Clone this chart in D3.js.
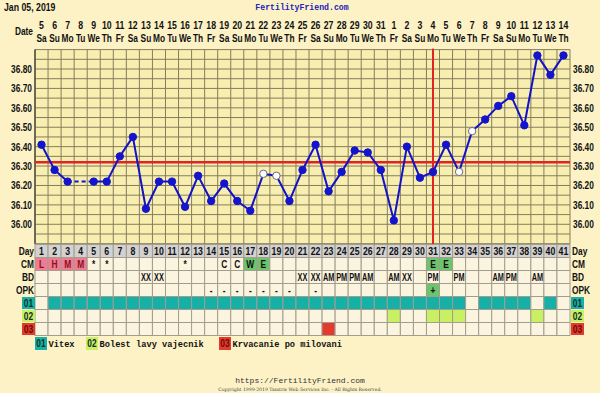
<!DOCTYPE html>
<html><head><meta charset="utf-8">
<script src="https://cdn.jsdelivr.net/npm/d3@7"></script>
<style>
html,body{margin:0;padding:0;background:#fcf2c6;}
svg{display:block;}
</style></head><body>
<svg id="c" width="600" height="393"></svg>
<script>
const days = d3.range(1, 42);
const dates = [5,6,7,8,9,10,11,12,13,14,15,16,17,18,19,20,21,22,23,24,25,26,27,28,29,30,31,1,2,3,4,5,6,7,8,9,10,11,12,13,14];
const weekdays = ["Sa","Su","Mo","Tu","We","Th","Fr","Sa","Su","Mo","Tu","We","Th","Fr","Sa","Su","Mo","Tu","We","Th","Fr","Sa","Su","Mo","Tu","We","Th","Fr","Sa","Su","Mo","Tu","We","Th","Fr","Sa","Su","Mo","Tu","We","Th"];
const temps = [36.41,36.28,36.22,null,36.22,36.22,36.35,36.45,36.08,36.22,36.22,36.09,36.25,36.12,36.21,36.12,36.07,36.26,36.25,36.12,36.28,36.41,36.17,36.27,36.38,36.37,36.28,36.02,36.40,36.24,36.27,36.41,36.27,36.48,36.54,36.61,36.66,36.51,36.87,36.77,36.87];
const openDays = [18,19,33,34];
const coverline = 36.32;
const ovulationDay = 31;
const yTicks = [36.00,36.10,36.20,36.30,36.40,36.50,36.60,36.70,36.80];
const cm  = ["L","H","M","M","*","*","","","","","","*","","","C","C","W","E","","","","","","","","","","","","","E","E","","","","","","","","",""];
const bd  = ["","","","","","","","","XX","XX","","","","","","","","","","","XX","XX","AM","PM","PM","AM","","AM","XX","","PM","","PM","","","AM","PM","","AM","",""];
const opk = ["","","","","","","","","","","","","","-","-","-","-","-","-","-","","-","","","","","","","","","+","","","","","","","","","",""];
const med01 = [0,1,1,1,1,1,1,1,1,1,1,1,1,1,1,1,1,1,1,1,1,1,1,1,1,1,1,1,1,1,1,1,1,0,1,1,1,1,0,1,0];
const med02 = [0,0,0,0,0,0,0,0,0,0,0,0,0,0,0,0,0,0,0,0,0,0,0,0,0,0,0,1,0,0,1,1,1,0,0,0,0,0,1,0,0];
const med03 = [0,0,0,0,0,0,0,0,0,0,0,0,0,0,0,0,0,0,0,0,0,0,1,0,0,0,0,0,0,0,0,0,0,0,0,0,0,0,0,0,0];
const rowNames = ["Day","CM","BD","OPK","01","02","03"];
const legendItems = [{code:"01",label:"Vitex"},{code:"02",label:"Bolest lavy vajecnik"},{code:"03",label:"Krvacanie po milovani"}];

const medColor = {"01":"#17b0a6","02":"#c9ef62","03":"#e4392d"};
const sans = "'Liberation Sans',Arial,sans-serif";
const mono = "'Liberation Mono','Courier New',monospace";
const SX = 0.76;

const svg = d3.select("#c");
const x = d3.scaleBand().domain(days).range([35, 570]);
const y = d3.scaleLinear().domain([35.9, 36.9]).range([243.7, 49.6]);
const ry = d3.scaleBand().domain(rowNames).range([244.5, 335.5]);
const cx = d => x(d) + x.bandwidth()/2;

// condensed bold text helper
function ctext(parent, tx, ty, txt, anchor, size, color) {
  return parent.append("text")
    .attr("transform", `translate(${tx},${ty}) scale(${SX},1)`)
    .attr("text-anchor", anchor || "middle")
    .attr("font-family", sans).attr("font-weight", "bold")
    .attr("font-size", size || 11).attr("fill", color || "#111").text(txt);
}

// header
ctext(svg, 4, 11, "Jan 05, 2019", "start", 11.5);
svg.append("text").attr("x",302).attr("y",10).attr("text-anchor","middle").attr("font-family",mono)
  .attr("font-weight","bold").attr("font-size",8.2).attr("fill","#2222bb").text("FertilityFriend.com");
ctext(svg, 33, 35, "Date", "end", 11);
days.forEach((d,i) => {
  ctext(svg, cx(d), 29, String(dates[i]), "middle", 11.5);
  ctext(svg, cx(d), 42, weekdays[i], "middle", 11);
});

// plot bg
svg.append("rect").attr("x",35).attr("y",y(36.9)).attr("width",535).attr("height",y(35.9)-y(36.9)).attr("fill","#f8eeb0");
// grid
const hLines = d3.range(0,21).map(i => 35.9 + i*0.05);
svg.append("g").selectAll("line").data(hLines).join("line")
  .attr("x1",35).attr("x2",570).attr("y1",d=>y(d)).attr("y2",d=>y(d)).attr("stroke","#857d5e").attr("stroke-width",1);
svg.append("g").selectAll("line").data(days.concat([42])).join("line")
  .attr("x1",d=>d<42?x(d):570).attr("x2",d=>d<42?x(d):570).attr("y1",y(36.9)).attr("y2",y(35.9))
  .attr("stroke","#857d5e").attr("stroke-width",1);
svg.append("line").attr("x1",35).attr("x2",35).attr("y1",y(36.9)).attr("y2",y(35.9)).attr("stroke","#555040").attr("stroke-width",1.5);

// y labels
const yl = svg.append("g");
yTicks.forEach(t => {
  ctext(yl, 32, y(t)+4, t.toFixed(2), "end", 11);
  ctext(yl, 573, y(t)+4, t.toFixed(2), "start", 11);
});

// red lines
svg.append("line").attr("x1",35).attr("x2",570).attr("y1",y(coverline)).attr("y2",y(coverline))
  .attr("stroke","#e02424").attr("stroke-width",2.5);
svg.append("line").attr("x1",cx(ovulationDay)).attr("x2",cx(ovulationDay)).attr("y1",y(36.9)-1).attr("y2",244.5)
  .attr("stroke","#e02424").attr("stroke-width",2);

// temperature line
const pts = days.map((d,i)=>({d, t:temps[i]}));
const line = d3.line().defined(p=>p.t!==null).x(p=>cx(p.d)).y(p=>y(p.t));
const valid = pts.filter(p=>p.t!==null);
const gaps = [];
for (let i=1;i<valid.length;i++) if (valid[i].d - valid[i-1].d > 1) gaps.push([valid[i-1], valid[i]]);
svg.append("g").selectAll("path").data(gaps).join("path")
  .attr("d", g => d3.line().x(p=>cx(p.d)).y(p=>y(p.t))(g))
  .attr("fill","none").attr("stroke","#1212c8").attr("stroke-width",2).attr("stroke-dasharray","4,3");
svg.append("path").attr("d",line(pts)).attr("fill","none").attr("stroke","#1212c8").attr("stroke-width",2);
svg.append("g").selectAll("circle").data(valid).join("circle")
  .attr("cx",p=>cx(p.d)).attr("cy",p=>y(p.t)).attr("r",3.7)
  .attr("fill",p=>openDays.includes(p.d)?"#ffffff":"#1414cc")
  .attr("stroke",p=>openDays.includes(p.d)?"#6a6a8a":"#1414cc").attr("stroke-width",1);

// table
const rowsG = svg.append("g");
const isPink = s => s==="L"||s==="H"||s==="M";
const isGreen = s => s==="W"||s==="E";
const rowData = {
  "Day": days.map(d=>({d, text:String(d), fill:"#d2d2d2"})),
  "CM": days.map((d,i)=>({d, text:cm[i], fill: isPink(cm[i]) ? "#f07c94" : (isGreen(cm[i]) ? "#6cc46c" : "#fbf4df"), color: isPink(cm[i]) ? "#8a1020" : "#111"})),
  "BD": days.map((d,i)=>({d, text:bd[i], fill:"#fbf4df"})),
  "OPK": days.map((d,i)=>({d, text:opk[i], fill: opk[i]==="+" ? "#6cc46c" : "#fbf4df"})),
  "01": days.map((d,i)=>({d, text:"", fill: med01[i] ? medColor["01"] : "#fbf4df"})),
  "02": days.map((d,i)=>({d, text:"", fill: med02[i] ? medColor["02"] : "#fbf4df"})),
  "03": days.map((d,i)=>({d, text:"", fill: med03[i] ? medColor["03"] : "#fbf4df"}))
};
rowNames.forEach(r => {
  const g = rowsG.append("g");
  const cells = rowData[r];
  g.selectAll("rect").data(cells).join("rect")
    .attr("x",c=>x(c.d)).attr("y",ry(r)).attr("width",x.bandwidth()).attr("height",ry.bandwidth())
    .attr("fill",c=>c.fill).attr("stroke","#a49c8c").attr("stroke-width",1);
  const ty = ry(r)+ry.bandwidth()/2+4;
  cells.filter(c=>c.text).forEach(c => {
    const sz = r==="BD" ? 10.5 : (r==="Day" ? 11.5 : 11);
    const t = ctext(g, cx(c.d), ty, c.text, "middle", sz, c.color || "#111");
    if (r==="BD") t.attr("transform", `translate(${cx(c.d)},${ty}) scale(0.7,1)`);
  });
  const isMed = r.startsWith("0");
  if (isMed) {
    [22, 571].forEach(lx => {
      g.append("rect").attr("x",lx).attr("y",ry(r)+0.5).attr("width",13).attr("height",ry.bandwidth()-1).attr("fill",medColor[r]);
      ctext(g, lx+6.5, ty, r, "middle", 11, r==="03" ? "#6a0c08" : "#10302a");
    });
  } else {
    ctext(g, 34, ty, r, "end", 11);
    ctext(g, 572, ty, r, "start", 11);
  }
});

// legend
const legX = [35, 86, 219];
legendItems.forEach((it,i) => {
  const lg = svg.append("g").attr("transform",`translate(${legX[i]},337)`);
  lg.append("rect").attr("x",0).attr("y",0).attr("width",12).attr("height",13).attr("fill",medColor[it.code]);
  ctext(lg, 6, 10, it.code, "middle", 11, it.code==="03"?"#6a0c08":"#10302a");
  lg.append("text").attr("x",13.5).attr("y",9.5).attr("font-family",mono).attr("font-weight","bold")
    .attr("font-size",8.7).attr("fill","#111").text(it.label);
});

// footer
svg.append("text").attr("x",300).attr("y",383).attr("text-anchor","middle").attr("font-family",mono)
  .attr("font-size",8).attr("fill","#333").text("https://FertilityFriend.com");
svg.append("text").attr("x",300).attr("y",391).attr("text-anchor","middle").attr("font-family","'DejaVu Serif',serif")
  .attr("font-size",4.6).attr("fill","#444").text("Copyright 1999-2019 Tamtris Web Services Inc. - All Rights Reserved.");
</script>
</body></html>
